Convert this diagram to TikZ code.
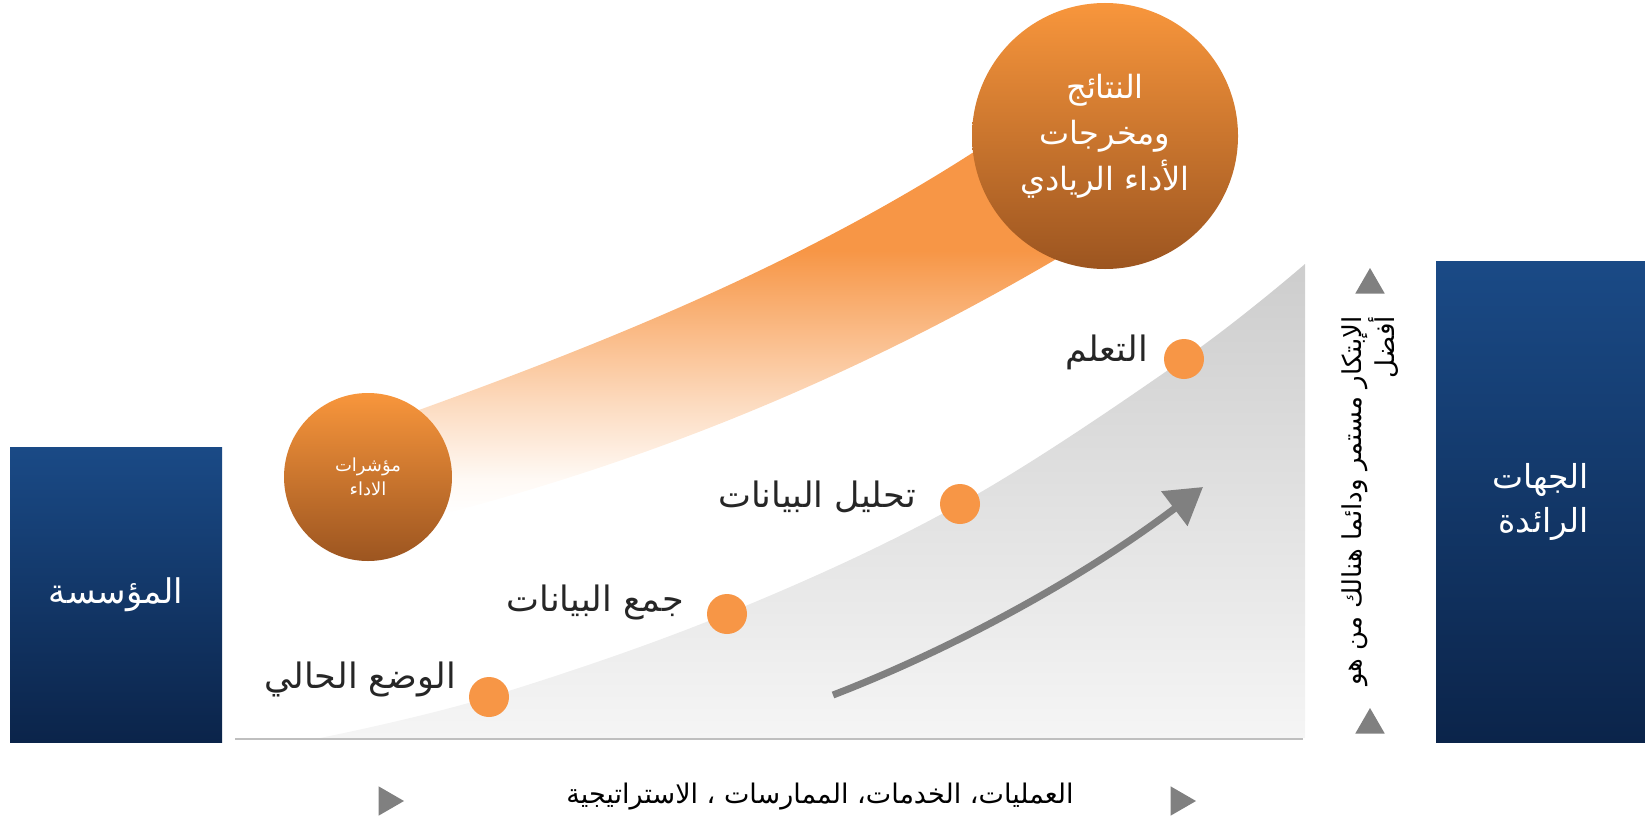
\documentclass[tikz,border=0pt]{standalone}
\usepackage{fontspec}
\newfontfamily\arabicfont[Script=Arabic]{DejaVu Sans}
\TeXXeTstate=1
\usetikzlibrary{arrows.meta,shapes.geometric}

\definecolor{orangeA}{HTML}{F79646}
\definecolor{circTop}{HTML}{F8963C}
\definecolor{circBot}{HTML}{9C5520}
\definecolor{blueTop}{HTML}{1A4A86}
\definecolor{blueBot}{HTML}{0B244A}
\definecolor{grayTop}{HTML}{CDCDCD}
\definecolor{grayBot}{HTML}{F5F5F5}
\definecolor{lineGray}{HTML}{BFBFBF}
\definecolor{arrowGray}{HTML}{808080}
\definecolor{txt}{HTML}{262626}
\colorlet{bandMid}{orangeA!34!white}
\colorlet{bandLow}{orangeA!6!white}

\pgfdeclareverticalshading{bandshade}{100bp}{color(0bp)=(white); color(25bp)=(white); color(30bp)=(bandLow); color(40bp)=(bandMid); color(61bp)=(orangeA); color(100bp)=(orangeA)}

\tikzset{
  bluebox/.style={rectangle, inner sep=0pt, top color=blueTop, bottom color=blueBot, text=white, align=center},
  orangecirc/.style={circle, inner sep=0pt, top color=circTop, bottom color=circBot, text=white, align=center},
  dotnode/.style={circle, fill=orangeA, minimum size=40pt, inner sep=0pt},
  lbl/.style={text=txt, inner sep=0pt, anchor=east, font=\fontsize{35}{40}\selectfont\arabicfont},
  tri/.style={regular polygon, regular polygon sides=3, fill=arrowGray, minimum size=34pt, inner sep=0pt},
  growarrow/.style={draw=arrowGray, line width=7pt, -{Triangle[length=36pt, width=42pt]}},
}

\begin{document}
\begin{tikzpicture}[x=1pt,y=-1pt]
\useasboundingbox (0,0) rectangle (1645,816);

% gray growth area
\shade[top color=grayTop, bottom color=grayBot]
  plot[smooth, tension=0.6] coordinates {(320,738) (489,697) (726,614) (960,504) (1184,359) (1305,264)}
  -- (1305,738) -- cycle;
\draw[lineGray, line width=2.5pt] (235,739) -- (1303,739);

% orange band
\shade[shading=bandshade] (405,415) .. controls (600,345) and (800,265) .. (980,148)
  -- (1058,258) .. controls (850,380) and (650,460) .. (440,515) -- cycle;

% circles
\node[orangecirc, minimum size=168pt, font=\fontsize{18}{24}\selectfont\arabicfont] (kpi) at (368,477)
  {\beginR مؤشرات\endR\\\beginR الاداء\endR};
\node[orangecirc, minimum size=266pt, font=\fontsize{32}{46}\selectfont\arabicfont] (res) at (1105,136)
  {\beginR النتائج\endR\\\beginR ومخرجات\endR\\\beginR الأداء الريادي\endR};

% blue boxes
\node[bluebox, minimum width=212pt, minimum height=295pt, font=\fontsize{34}{43}\selectfont\arabicfont] (org) at (116,594.5)
  {\beginR المؤسسة\endR};
\node[bluebox, align=right, minimum width=209pt, minimum height=481pt, font=\fontsize{33}{44}\selectfont\arabicfont] (lead) at (1540.5,501.5)
  {\beginR الجهات\endR\\\beginR الرائدة\endR};

% dots and labels
\node[dotnode] (d1) at (489,697) {};
\node[dotnode] (d2) at (727,614) {};
\node[dotnode] (d3) at (960,504) {};
\node[dotnode] (d4) at (1184,359) {};
\node[lbl] (l1) at (456,679) {\beginR الوضع الحالي\endR};
\node[lbl] (l2) at (684,602) {\beginR جمع البيانات\endR};
\node[lbl] (l3) at (916,497) {\beginR تحليل البيانات\endR};
\node[lbl] (l4) at (1148,352) {\beginR التعلم\endR};

% growth arrow
\coordinate (a1) at (833,695);
\coordinate (a2) at (1203,487);
\draw[growarrow] (a1) .. controls (950,650) and (1080,580) .. (a2);

% vertical text with triangles
\node[tri] (up1) at (1370,285) {};
\node[tri] (up2) at (1370,725) {};
\node[rotate=90, anchor=east, align=right, inner sep=0pt, text=black, font=\fontsize{26}{33}\selectfont\arabicfont] (vt) at (1370,316)
  {\beginR الإبتكار مستمر ودائما هنالك من هو\endR\\\beginR أفضل\endR};

% bottom axis text
\node[tri, shape border rotate=-90] (r1) at (387,801) {};
\node[tri, shape border rotate=-90] (r2) at (1179,801) {};
\node[inner sep=0pt, text=black, font=\fontsize{27}{32}\selectfont\arabicfont] (ax) at (820,797)
  {\beginR العمليات، الخدمات، الممارسات ، الاستراتيجية\endR};
\end{tikzpicture}
\end{document}
